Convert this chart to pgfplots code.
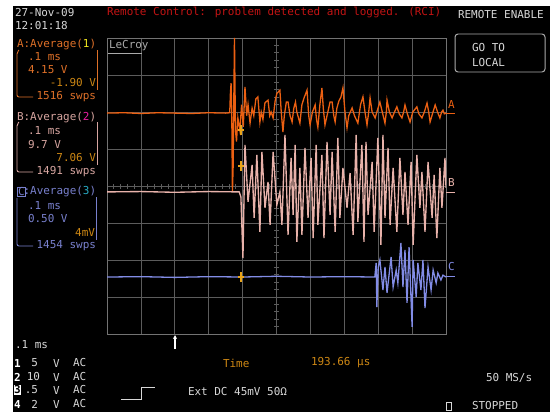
\documentclass[border=0pt]{standalone}
\usepackage{pgfplots}
\pgfplotsset{compat=1.18}
\usepackage{fontspec}
\setmainfont{DejaVu Sans Mono}
\usetikzlibrary{arrows.meta}
\definecolor{gridc}{RGB}{92,92,92}
\definecolor{framec}{RGB}{115,115,115}
\definecolor{traceA}{RGB}{236,96,18}
\definecolor{traceB}{RGB}{232,178,170}
\definecolor{traceC}{RGB}{130,140,230}
\definecolor{txtA}{RGB}{222,112,40}
\definecolor{txtB}{RGB}{215,165,160}
\definecolor{txtC}{RGB}{120,128,205}
\definecolor{amber}{RGB}{205,135,20}
\definecolor{trig}{RGB}{235,165,25}
\definecolor{yel}{RGB}{240,230,30}
\definecolor{mag}{RGB}{230,30,160}
\definecolor{cya}{RGB}{40,170,195}
\definecolor{redt}{RGB}{195,20,20}
\definecolor{lgray}{RGB}{215,215,215}
\definecolor{mgray}{RGB}{170,170,170}
\begin{document}
\begin{tikzpicture}[x=1bp,y=1bp,every node/.style={inner sep=0pt,outer sep=0pt,font=\fontsize{11}{13}\selectfont}]
% white page and black screen
\fill[white] (0,0) rectangle (550,412);
\fill[black] (13,0) rectangle (550,406);

% centre graticule ticks (drawn beneath the traces)
\foreach \i in {1,...,39}{\draw[gridc,line width=0.7pt] (274,78+7.4*\i) -- (279,78+7.4*\i);}
\foreach \i in {1,...,49}{\draw[gridc,line width=0.7pt] (107+6.78*\i,223.5) -- (107+6.78*\i,228.5);}

\begin{axis}[at={(107bp,78bp)},anchor=south west,scale only axis,
  width=339bp,height=296bp,
  xmin=0,xmax=10,ymin=-4,ymax=4,
  xtick={0,1,...,10},ytick={-4,-3,...,4},
  xticklabels={},yticklabels={},
  tick style={draw=none},
  grid=major,major grid style={color=gridc,line width=0.8pt},
  axis line style={color=framec,line width=0.9pt},
  clip=true]
% Trace A
\addplot[traceA,line width=1.3pt] coordinates {
(0,1.97)(0.5,1.98)(1,1.96)(1.5,1.98)(2,1.97)(2.5,1.96)(3,1.98)(3.5,1.97)(3.62,1.98)
(3.64,2.5)(3.66,2.78)(3.68,2.0)(3.70,-0.16)(3.72,0.5)(3.76,4.0)(3.79,1.5)(3.82,1.2)(3.86,1.84)
(3.92,1.5)(3.97,2.2)(4.02,1.6)(4.07,2.68)(4.12,1.9)(4.16,2.2)(4.22,1.70)(4.28,2.1)(4.33,1.9)
(4.39,2.35)(4.45,2.41)(4.51,1.73)(4.55,2.0)(4.60,1.8)(4.66,2.25)(4.75,2.32)(4.80,1.9)(4.84,2.0)
(4.90,1.84)(4.96,2.3)(5.01,2.5)(5.10,2.59)(5.14,2.0)(5.19,1.46)(5.23,1.9)(5.29,2.27)(5.34,2.27)
(5.40,1.9)(5.46,1.73)(5.51,2.1)(5.56,2.27)(5.60,2.0)(5.69,1.70)(5.75,2.2)(5.82,2.4)(5.90,2.59)
(5.95,1.9)(5.99,1.65)(6.06,2.0)(6.14,2.19)(6.18,1.8)(6.22,1.59)(6.28,2.2)(6.34,2.65)(6.38,2.1)
(6.43,1.65)(6.49,1.9)(6.58,2.27)(6.64,2.27)(6.69,1.9)(6.73,1.73)(6.78,2.1)(6.84,2.3)(6.90,2.4)
(6.96,2.65)(7.02,2.0)(7.08,1.57)(7.13,1.9)(7.23,2.11)(7.30,1.9)(7.40,1.70)(7.48,2.2)(7.55,2.41)
(7.61,2.0)(7.67,1.65)(7.72,2.0)(7.76,2.38)(7.82,2.0)(7.91,1.84)(7.96,2.0)(8.05,2.27)(8.12,2.0)
(8.20,1.70)(8.24,2.0)(8.26,2.32)(8.33,2.0)(8.41,1.84)(8.48,2.0)(8.55,2.14)(8.62,1.95)(8.70,1.84)
(8.75,2.0)(8.79,2.19)(8.86,1.95)(8.94,1.73)(9.02,2.0)(9.14,2.14)(9.20,1.95)(9.29,1.84)(9.36,2.0)
(9.44,2.24)(9.49,2.0)(9.53,1.73)(9.60,1.95)(9.68,2.19)(9.75,2.0)(9.82,1.84)(9.87,2.0)(9.91,2.05)
(9.95,1.95)(10,1.97)};
% Trace B
\addplot[traceB,line width=1.35pt] coordinates {
(0,-0.16)(1,-0.15)(2,-0.17)(3,-0.15)(3.90,-0.16)(3.95,-0.3)(4.01,-1.95)(4.07,1.11)(4.16,-0.43)
(4.28,0.57)(4.34,-0.86)(4.42,0.84)(4.51,-1.24)(4.57,0.92)(4.66,-0.59)(4.75,0.11)(4.81,-1.05)
(4.90,0.92)(5.01,-0.51)(5.10,-0.16)(5.16,-1.05)(5.25,1.38)(5.34,-1.32)(5.43,0.76)(5.49,-0.78)
(5.55,1.11)(5.60,-1.51)(5.69,0.49)(5.75,-1.32)(5.84,1.03)(5.93,-0.86)(6.02,0.76)(6.08,-1.41)
(6.17,1.11)(6.22,-1.05)(6.34,0.84)(6.40,-1.41)(6.49,1.19)(6.58,-0.78)(6.64,0.92)(6.73,-1.24)
(6.81,1.30)(6.87,-0.86)(6.96,0.49)(7.08,-0.59)(7.17,0.35)(7.26,-1.32)(7.35,1.38)(7.40,-0.97)
(7.52,1.11)(7.58,-1.51)(7.64,1.19)(7.70,-0.78)(7.82,0.65)(7.88,-1.24)(7.99,1.30)(8.08,-1.59)
(8.14,1.38)(8.20,-0.86)(8.29,1.03)(8.35,-1.05)(8.44,0.49)(8.55,-1.24)(8.64,0.76)(8.73,-0.78)
(8.79,0.38)(8.88,-1.05)(8.97,0.65)(9.03,-1.59)(9.14,0.84)(9.23,-0.59)(9.29,0.38)(9.38,-1.24)
(9.47,0.65)(9.59,-0.86)(9.65,0.30)(9.73,-1.41)(9.82,0.49)(9.88,-0.59)(9.97,0.76)(10,-0.05)};
% Trace C
\addplot[traceC,line width=1.3pt] coordinates {
(0,-2.46)(1,-2.45)(2,-2.47)(3,-2.45)(4,-2.46)(5,-2.44)(6,-2.46)(7,-2.45)(7.90,-2.46)
(7.94,-2.08)(7.96,-3.27)(8.00,-2.2)(8.05,-2.00)(8.14,-2.81)(8.20,-2.19)(8.26,-2.89)(8.38,-1.92)
(8.44,-2.73)(8.53,-2.27)(8.58,-2.62)(8.67,-1.54)(8.73,-2.73)(8.79,-1.73)(8.85,-3.16)(8.91,-1.65)
(9.00,-3.81)(9.03,-2.00)(9.12,-3.00)(9.17,-2.08)(9.26,-2.81)(9.32,-2.00)(9.38,-3.30)(9.47,-2.19)
(9.56,-2.81)(9.62,-2.27)(9.71,-2.62)(9.76,-2.35)(9.85,-2.54)(9.91,-2.41)(10,-2.46)};
\end{axis}

% trigger markers
\foreach \yy in {282,246,135}{
  \draw[trig,line width=1.6pt] (241,\yy-5) -- (241,\yy+5);
  \draw[trig,line width=1.2pt] (238,\yy) -- (244,\yy);
}
% trace labels
\node[anchor=west,text=traceA] at (448,307) {A};
\draw[traceA,line width=1pt] (446,299) -- (455,299);
\node[anchor=west,text=traceB] at (448,229) {B};
\draw[traceB,line width=1pt] (446,220) -- (455,220);
\node[anchor=west,text=traceC] at (448,145) {C};
\draw[traceC,line width=1pt] (446,136) -- (455,136);

% LeCroy
\node[anchor=west,text=mgray] at (109,366) {LeCroy};
\draw[mgray,line width=0.8pt] (108,359) -- (142,359);

% header
\node[anchor=west,text=lgray] at (15,399) {27-Nov-09};
\node[anchor=west,text=lgray] at (15,386) {12:01:18};
\node[anchor=west,text=redt] at (107,400) {Remote Control: problem detected and logged. (RCI)};
\node[anchor=west,text=lgray] at (458,397) {REMOTE ENABLE};
\draw[mgray,line width=1pt,rounded corners=3bp] (455,378) rectangle (545,340);
\node[anchor=west,text=lgray] at (472,364) {GO TO};
\node[anchor=west,text=lgray] at (472,349) {LOCAL};

% panel A
\node[anchor=west] at (17,367) {\textcolor{txtA}{A:Average(}\textcolor{yel}{1}\textcolor{txtA}{)}};
\node[anchor=west,text=txtA] at (28,355) {.1 ms};
\node[anchor=west,text=txtA] at (28,342) {4.15 V};
\node[anchor=east,text=amber] at (96,329) {-1.90 V};
\node[anchor=east,text=txtA] at (96,315) {1516 swps};
\draw[txtA,line width=0.9pt,rounded corners=2bp] (19,362) -- (17,360) -- (17,315) -- (33,315);
\draw[txtA,line width=0.9pt] (97,362) -- (97,322);
% panel B
\node[anchor=west] at (17,294) {\textcolor{txtB}{B:Average(}\textcolor{mag}{2}\textcolor{txtB}{)}};
\node[anchor=west,text=txtB] at (28,281) {.1 ms};
\node[anchor=west,text=txtB] at (28,267) {9.7 V};
\node[anchor=east,text=amber] at (96,254) {7.06 V};
\node[anchor=east,text=txtB] at (96,240) {1491 swps};
\draw[txtB,line width=0.9pt,rounded corners=2bp] (19,290) -- (17,288) -- (17,240) -- (33,240);
\draw[txtB,line width=0.9pt] (97,290) -- (97,247);
% panel C
\node[anchor=west] at (17,220) {\textcolor{txtC}{\phantom{C}:Average(}\textcolor{cya}{3}\textcolor{txtC}{)}};
\node[anchor=west,text=txtC,draw=txtC,line width=0.7pt,inner sep=0.6bp] at (17.5,220) {C};
\node[anchor=west,text=txtC] at (28,206) {.1 ms};
\node[anchor=west,text=txtC] at (28,193) {0.50 V};
\node[anchor=east,text=amber] at (95,179) {4mV};
\node[anchor=east,text=txtC] at (96,166) {1454 swps};
\draw[txtC,line width=0.9pt,rounded corners=2bp] (17,214) -- (17,166) -- (33,166);
\draw[txtC,line width=0.9pt] (96,215) -- (96,172);

% bottom left
\node[anchor=west,text=lgray] at (15,67) {.1 ms};
\node[anchor=west,text=white] at (14,49) {\bfseries 1};
\node[anchor=east,text=lgray] at (38,49) {5};
\node[anchor=west,text=lgray] at (53,49) {V};
\node[anchor=west,text=lgray] at (73,49) {AC};
\node[anchor=west,text=white] at (14,35) {\bfseries 2};
\node[anchor=east,text=lgray] at (40,35) {10};
\node[anchor=west,text=lgray] at (53,35) {V};
\node[anchor=west,text=lgray] at (73,35) {AC};
\node[anchor=west,text=black,fill=white,inner sep=0.5bp] at (13.5,22) {\bfseries 3};
\node[anchor=east,text=lgray] at (38,22) {.5};
\node[anchor=west,text=lgray] at (53,22) {V};
\node[anchor=west,text=lgray] at (73,22) {AC};
\node[anchor=west,text=white] at (14,8) {\bfseries 4};
\node[anchor=east,text=lgray] at (38,8) {2};
\node[anchor=west,text=lgray] at (53,8) {V};
\node[anchor=west,text=lgray] at (73,8) {AC};
% trigger step symbol
\draw[lgray,line width=0.9pt] (121,13) -- (141,13) -- (141,25) -- (155,25);
% trigger position arrow
\draw[white,line width=1.3pt,-{Stealth[length=4bp,width=4bp]}] (175,63) -- (175,77);
% bottom texts
\node[anchor=west,text=amber] at (223,49) {Time};
\node[anchor=west,text=amber] at (311,49) {193.66 µs};
\node[anchor=west,text=lgray] at (188,20) {Ext DC 45mV 50Ω};
\node[anchor=west,text=lgray] at (486,34) {50 MS/s};
\draw[lgray,line width=0.8pt] (446,2) rectangle (451,10);
\node[anchor=west,text=lgray] at (472,6) {STOPPED};
\end{tikzpicture}
\end{document}
